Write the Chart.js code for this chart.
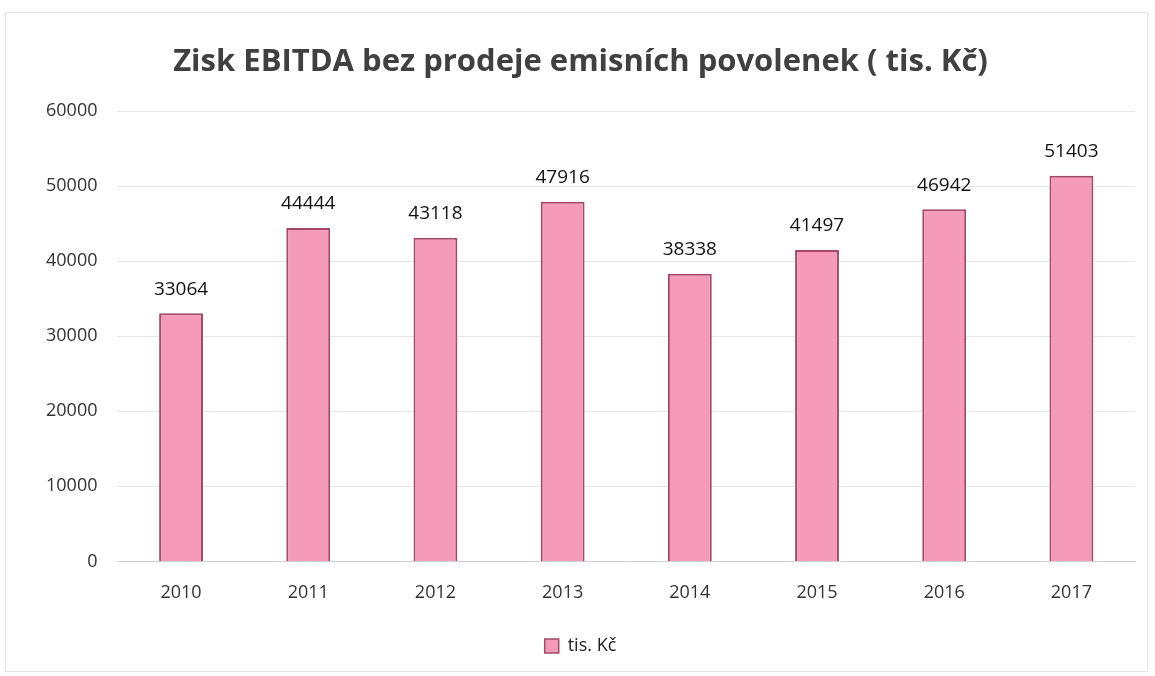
<!DOCTYPE html>
<html>
<head>
<meta charset="utf-8">
<script src="https://cdn.jsdelivr.net/npm/chart.js@4"></script>
<style>
  body { margin: 0; background: #fff; }
  #frame {
    position: absolute; left: 5px; top: 12px; width: 1143px; height: 660px;
    border: 1px solid #e4e4e4; box-sizing: border-box;
  }
  canvas { display: block; }
</style>
</head>
<body>
<div id="frame"><canvas id="chartCanvas" width="1141" height="658"></canvas></div>
<script>
const years = ["2010", "2011", "2012", "2013", "2014", "2015", "2016", "2017"];
const ebitda = [33064, 44444, 43118, 47916, 38338, 41497, 46942, 51403];
const seriesName = "tis. Kč";
const titleText = "Zisk EBITDA bez prodeje emisních povolenek ( tis. Kč)";

// draws the value above each bar
const barLabels = {
    id: "barLabels",
    afterDatasetsDraw(chart) {
        const ctx = chart.ctx;
        const meta = chart.getDatasetMeta(0);
        ctx.save();
        ctx.font = "19px 'Open Sans'";
        ctx.fillStyle = "#111";
        ctx.textAlign = "center";
        ctx.textBaseline = "middle";
        meta.data.forEach((bar, i) => {
            ctx.fillText(ebitda[i], bar.x, bar.y - 24);
        });
        ctx.restore();
    }
};

const chart = new Chart(document.getElementById("chartCanvas"), {
    type: "bar",
    data: {
        labels: years,
        datasets: [{
            label: seriesName,
            data: ebitda,
            backgroundColor: "#f59bb9",
            borderColor: "#a34a68",
            borderWidth: { top: 2, left: 2, right: 2, bottom: 0 },
            barPercentage: 0.345,
            categoryPercentage: 1
        }]
    },
    options: {
        responsive: false,
        animation: false,
        layout: { padding: { left: 20, right: 12, top: 10, bottom: 6 } },
        plugins: {
            title: {
                display: true,
                text: titleText,
                color: "#404040",
                font: { family: "'Open Sans'", size: 31, weight: "bold" },
                padding: { top: 21, bottom: 30 }
            },
            legend: {
                position: "bottom",
                labels: {
                    color: "#222",
                    font: { family: "'Open Sans'", size: 18 },
                    boxWidth: 14,
                    boxHeight: 14,
                    padding: 20
                }
            },
            tooltip: { enabled: false }
        },
        scales: {
            x: {
                grid: { display: false },
                border: { color: "#d0d0d0" },
                ticks: { color: "#333", font: { family: "'Open Sans'", size: 18 }, padding: 13 }
            },
            y: {
                min: 0,
                max: 60000,
                ticks: {
                    stepSize: 10000,
                    color: "#333",
                    font: { family: "'Open Sans'", size: 18 },
                    padding: 20,
                    callback: v => String(v)
                },
                grid: { color: "#e6e6e6", drawTicks: false },
                border: { display: false }
            }
        }
    },
    plugins: [barLabels]
});
</script>
</body>
</html>
